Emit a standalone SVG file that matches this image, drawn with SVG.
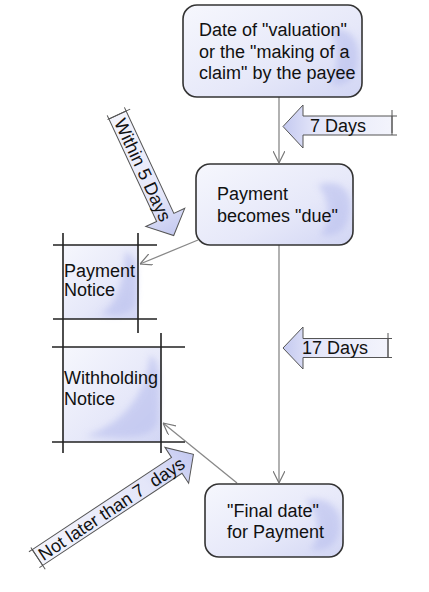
<svg xmlns="http://www.w3.org/2000/svg" width="429" height="592" viewBox="0 0 429 592">
<defs>
  <linearGradient id="boxFill" x1="0" y1="0" x2="1" y2="1">
    <stop offset="0" stop-color="#f6f7fd"/>
    <stop offset="0.6" stop-color="#e6e8f9"/>
    <stop offset="1" stop-color="#d2d6f4"/>
  </linearGradient>
  <linearGradient id="arrowFill" x1="0" y1="0" x2="1" y2="0">
    <stop offset="0" stop-color="#f3f4fc"/>
    <stop offset="0.7" stop-color="#e4e6f9"/>
    <stop offset="1" stop-color="#c4c9f0"/>
  </linearGradient>
  <linearGradient id="arrowFillL" x1="1" y1="0" x2="0" y2="0">
    <stop offset="0" stop-color="#f3f4fc"/>
    <stop offset="0.7" stop-color="#e4e6f9"/>
    <stop offset="1" stop-color="#c4c9f0"/>
  </linearGradient>
  <filter id="blur" x="-50%" y="-50%" width="200%" height="200%">
    <feGaussianBlur stdDeviation="3"/>
  </filter>
  <marker id="open" markerUnits="userSpaceOnUse" viewBox="0 0 12 12" refX="12" refY="6" markerWidth="12" markerHeight="12" orient="auto">
    <path d="M0,0 L12,6 L0,12" fill="none" stroke="#777" stroke-width="1.2"/>
  </marker>
</defs>
<style>
  .box { fill: url(#boxFill); stroke: #333; stroke-width: 1.6; }
  .blob { fill: #b9bfee; opacity: 0.6; filter: url(#blur); }
  .t { font-family: "Liberation Sans", Arial, sans-serif; font-size: 18px; fill: #111; }
  .conn { fill: none; stroke: #888; stroke-width: 1.3; }
  .rule { stroke: #222; stroke-width: 1.6; fill: none; }
  .nfill { fill: url(#boxFill); }
  .barrow { stroke: #555; stroke-width: 1; }
  .cap { stroke: #555; stroke-width: 1; fill: none; }
</style>
<rect width="429" height="592" fill="#ffffff"/>

<g id="connectors">
  <path class="conn" d="M279,97 V163" marker-end="url(#open)"/>
  <path class="conn" d="M279,245 V483" marker-end="url(#open)"/>
  <path class="conn" d="M198,240 L140,264" marker-end="url(#open)"/>
  <path class="conn" d="M237,483 L163,423" marker-end="url(#open)"/>
</g>

<g id="node-valuation">
  <rect class="box" x="183" y="5" width="179" height="92" rx="14"/>
  <path class="blob" d="M330,30 C350,26 360,40 358,60 C356,80 345,88 330,84 C340,70 338,45 330,30 Z"/>
  <text class="t" x="199" y="36">Date of "valuation"</text>
  <text class="t" x="199" y="57.5">or the "making of a</text>
  <text class="t" x="199" y="79">claim" by the payee</text>
</g>

<g id="node-due">
  <rect class="box" x="196" y="164" width="157" height="81" rx="14"/>
  <path class="blob" d="M318,185 C340,178 352,190 350,210 C348,230 338,238 320,235 C332,222 330,200 318,185 Z"/>
  <text class="t" x="217" y="200">Payment</text>
  <text class="t" x="217" y="222">becomes "due"</text>
</g>

<g id="node-final">
  <rect class="box" x="205" y="484" width="138" height="73" rx="14"/>
  <path class="blob" d="M305,500 C330,495 342,510 340,528 C338,545 328,552 310,550 C322,538 320,515 305,500 Z"/>
  <text class="t" x="227" y="517">"Final date"</text>
  <text class="t" x="227" y="538">for Payment</text>
</g>

<g id="node-payment-notice">
  <rect class="nfill" x="63" y="245" width="75" height="74"/>
  <path class="blob" d="M125,252 C138,255 138,275 136,300 C134,315 120,318 100,314 C118,305 124,280 125,252 Z"/>
  <path class="rule" d="M53,245 H157 M53,319 H157 M63,233 V333 M138,233 V333"/>
  <text class="t" x="64" y="277">Payment</text>
  <text class="t" x="64" y="296">Notice</text>
</g>

<g id="node-withholding">
  <rect class="nfill" x="63" y="347" width="98" height="95"/>
  <path class="blob" d="M150,355 C162,360 160,390 158,420 C156,438 130,440 85,436 C120,425 145,400 150,355 Z"/>
  <path class="rule" d="M52,347 H185 M52,442 H185 M63,333 V453 M161,333 V453"/>
  <text class="t" x="64" y="384">Withholding</text>
  <text class="t" x="64" y="405">Notice</text>
</g>

<g id="label-7days">
  <path class="barrow" fill="url(#arrowFillL)" d="M392,116 H303 V105 L283,126.5 L303,148 V135 H392 Z"/>
  <path class="cap" d="M392,116 H397 M392,135 H397 M392,110 V133"/>
  <text class="t" x="310" y="132">7 Days</text>
</g>

<g id="label-17days">
  <path class="barrow" fill="url(#arrowFillL)" d="M388,338.5 H303 V327 L283,348 L303,369 V357.5 H388 Z"/>
  <path class="cap" d="M388,338.5 H392 M388,357.5 H392 M388,333 V358"/>
  <text class="t" x="302" y="354">17 Days</text>
</g>

<g id="label-within5" transform="translate(117.5,115) rotate(65)">
  <path class="barrow" fill="url(#arrowFill)" d="M0,-9.5 H113 V-21.5 L133,0 L113,21.5 V9.5 H0 Z"/>
  <path class="cap" d="M0,-9.5 H-4 M0,9.5 H-4 M0,-14 V11"/>
  <text class="t" x="5" y="6.5">Within 5 Days</text>
</g>

<g id="label-not-later" transform="translate(37.5,557.5) rotate(-33.5)">
  <path class="barrow" fill="url(#arrowFill)" d="M0,-9.5 H167 V-21.5 L187,0 L167,21.5 V9.5 H0 Z"/>
  <path class="cap" d="M0,-9.5 H-4 M0,9.5 H-4 M0,-12 V14"/>
  <text class="t" x="3" y="6.5" style="white-space:pre" xml:space="preserve">Not later than 7  days</text>
</g>
</svg>
